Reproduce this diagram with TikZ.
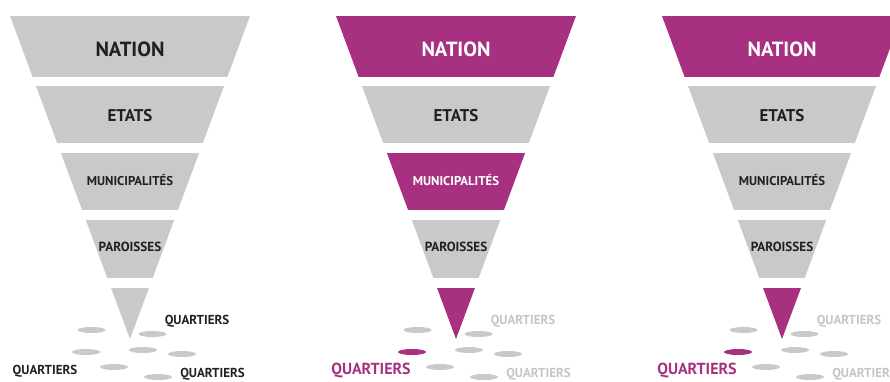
\documentclass[tikz,border=0pt]{standalone}
\usepackage{fontspec}
\setmainfont{PT Sans}
\usepackage{xcolor}
\usepackage{tikz}
\usetikzlibrary{positioning}

\definecolor{levelgrey}{RGB}{200,201,203}
\definecolor{plum}{RGB}{167,49,128}
\definecolor{ink}{RGB}{35,31,32}
\definecolor{faded}{RGB}{196,197,199}

\tikzset{
    level/.style={font=\bfseries\fontsize{#1}{#1}\selectfont, inner sep=0pt, anchor=base},
    quarter/.style={font=\bfseries\fontsize{#1}{#1}\selectfont, inner sep=0pt, anchor=base}
}

\begin{document}
\begin{tikzpicture}[x=1pt,y=-1pt]
    \useasboundingbox (0,0) rectangle (890,381);
    \clip (0,0) rectangle (890,381);
    % three funnels, 326 apart
    % \ca nation, \cc municipalites, \ct tip, \cq quartiers text, \cl / \sl left quartiers
    \foreach \i/\ca/\ta/\cc/\tc/\ct/\cq/\cl/\sl in {
        0/levelgrey/ink/levelgrey/ink/levelgrey/ink/ink/13,
        1/plum/white/plum/white/plum/faded/plum/16,
        2/plum/white/levelgrey/ink/plum/faded/plum/16}
    {
    \begin{scope}[xshift={\i*326pt}]
        % the funnel is one triangle cut into bands
        \begin{scope}
            \clip (10,16) -- (250,16) -- (130,339) -- cycle;
            \fill[\ca] (0,16) rectangle (260,77);
            \fill[levelgrey] (0,86) rectangle (260,143);
            \fill[\cc] (0,153) rectangle (260,210);
            \fill[levelgrey] (0,220) rectangle (260,278);
            \fill[\ct] (0,288) rectangle (260,340);
        \end{scope}
        \node[level=20.5, text=\ta] (nation\i) at (130,56) {NATION};
        \node[level=17, text=ink] (etats\i) at (130,121.5) {ETATS};
        \node[level=12.8, text=\tc] (muni\i) at (130,185.5) {MUNICIPALITÉS};
        \node[level=13.2, text=ink] (paroisses\i) at (130,251) {PAROISSES};
        % scattered quartiers
        \foreach \x/\y in {91.5/330,152.5/334,143/350,182/354,114/367,158/377}
            \fill[levelgrey] (\x,\y) ellipse [x radius=14pt, y radius=3pt];
        \fill[\ct] (86,352) ellipse [x radius=14pt, y radius=3pt];
        \node[quarter=13, text=\cq] (qtop\i) at (197,324) {QUARTIERS};
        \node[quarter=\sl, text=\cl] (qleft\i) at (45,374) {QUARTIERS};
        \node[quarter=13, text=\cq] (qbottom\i) at (212.5,377) {QUARTIERS};
    \end{scope}
    }
\end{tikzpicture}
\end{document}
